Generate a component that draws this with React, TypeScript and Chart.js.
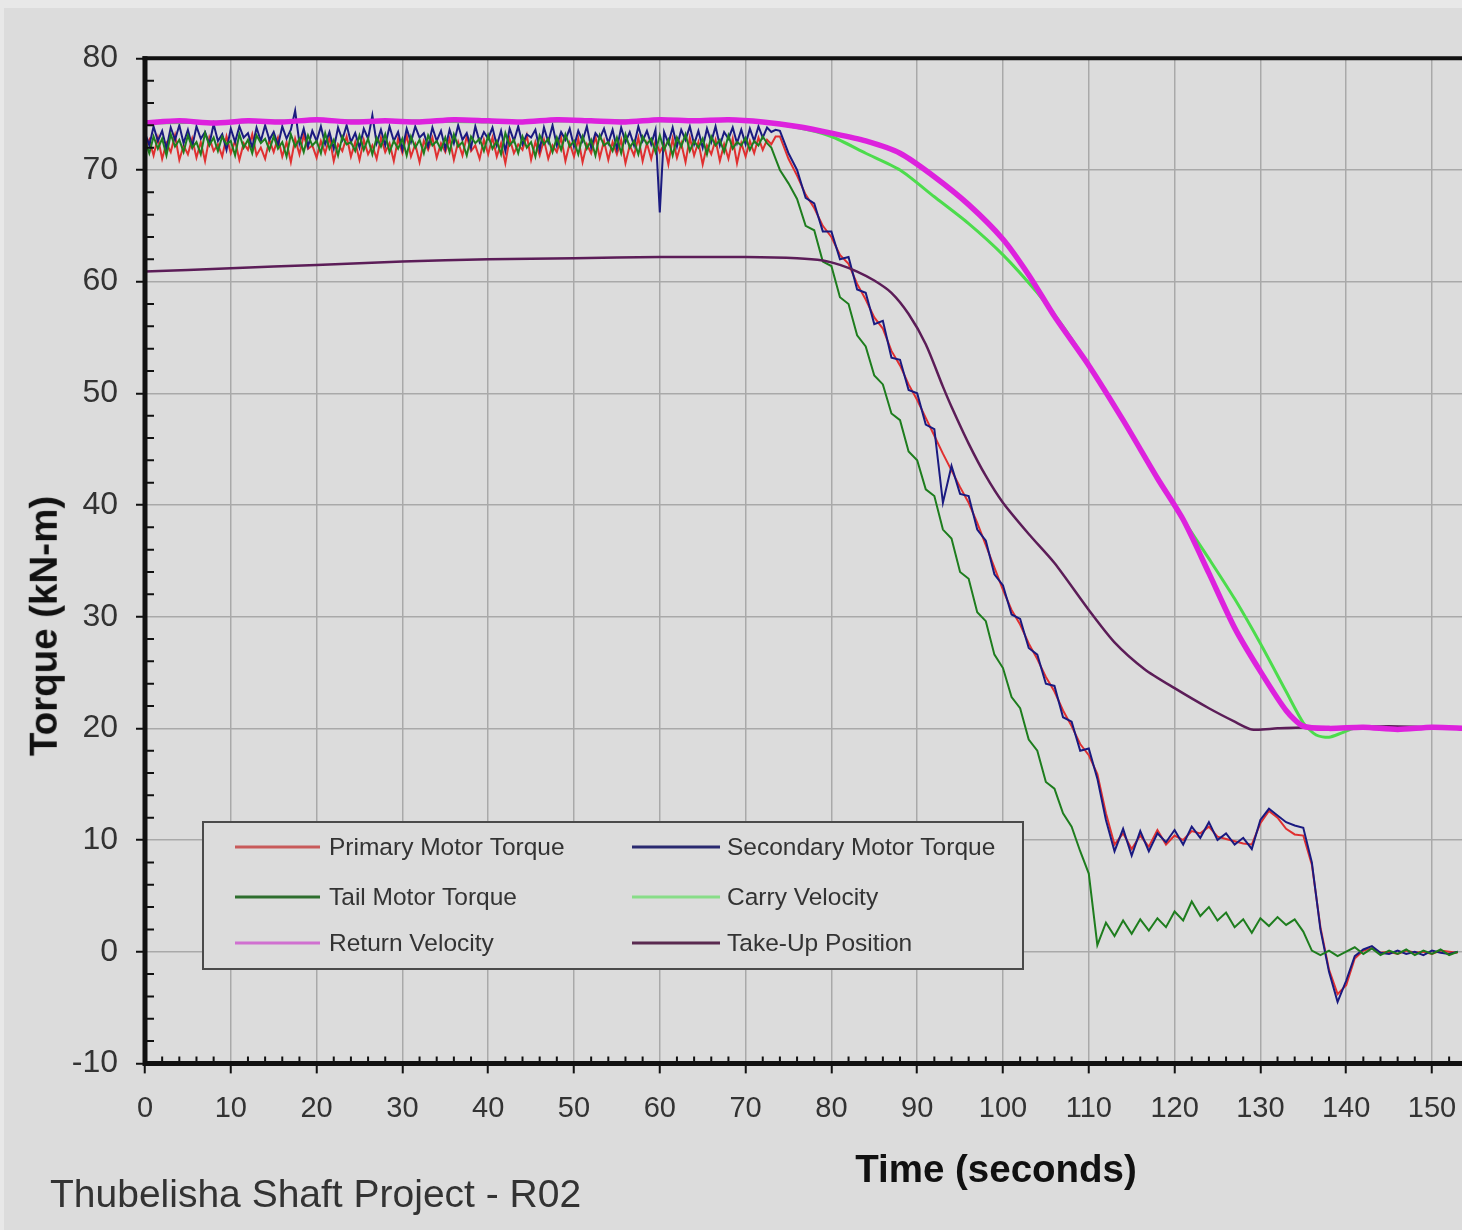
import React, { useEffect, useRef } from "react";
import { Chart, registerables } from "chart.js";

Chart.register(...registerables);

// ---------- data ----------
const TIME = [
  0, 0.5, 1, 1.5, 2, 2.5, 3, 3.5, 4, 4.5,
  5, 5.5, 6, 6.5, 7, 7.5, 8, 8.5, 9, 9.5,
  10, 10.5, 11, 11.5, 12, 12.5, 13, 13.5, 14, 14.5,
  15, 15.5, 16, 16.5, 17, 17.5, 18, 18.5, 19, 19.5,
  20, 20.5, 21, 21.5, 22, 22.5, 23, 23.5, 24, 24.5,
  25, 25.5, 26, 26.5, 27, 27.5, 28, 28.5, 29, 29.5,
  30, 30.5, 31, 31.5, 32, 32.5, 33, 33.5, 34, 34.5,
  35, 35.5, 36, 36.5, 37, 37.5, 38, 38.5, 39, 39.5,
  40, 40.5, 41, 41.5, 42, 42.5, 43, 43.5, 44, 44.5,
  45, 45.5, 46, 46.5, 47, 47.5, 48, 48.5, 49, 49.5,
  50, 50.5, 51, 51.5, 52, 52.5, 53, 53.5, 54, 54.5,
  55, 55.5, 56, 56.5, 57, 57.5, 58, 58.5, 59, 59.5,
  60, 60.5, 61, 61.5, 62, 62.5, 63, 63.5, 64, 64.5,
  65, 65.5, 66, 66.5, 67, 67.5, 68, 68.5, 69, 69.5,
  70, 70.5, 71, 71.5, 72, 72.5, 73, 73.5,
  74, 75, 76, 77, 78, 79,
  80, 81, 82, 83, 84, 85, 86, 87, 88, 89,
  90, 91, 92, 93, 94, 95, 96, 97, 98, 99,
  100, 101, 102, 103, 104, 105, 106, 107, 108, 109,
  110, 111, 112, 113, 114, 115, 116, 117, 118, 119,
  120, 121, 122, 123, 124, 125, 126, 127, 128, 129,
  130, 131, 132, 133, 134, 135, 136, 137, 138, 139,
  140, 141, 142, 143, 144, 145, 146, 147, 148, 149,
  150, 151, 152, 153,
];

const PRIMARY_TORQUE = [
  71.8, 72.7, 71.3, 72.9, 71.0, 72.4, 71.6, 73.1, 70.9, 72.2,
  71.4, 72.8, 71.1, 72.5, 70.8, 72.9, 71.7, 72.3, 71.2, 73.0,
  71.5, 72.6, 70.9, 72.4, 71.8, 73.2, 71.3, 72.0, 71.0, 72.7,
  71.6, 72.9, 71.2, 72.5, 70.7, 72.8, 71.4, 73.1, 71.9, 72.2,
  71.1, 72.6, 71.5, 72.9, 70.8, 72.3, 71.7, 73.0, 71.2, 72.5,
  70.9, 72.7, 71.4, 72.2, 71.0, 72.9, 71.6, 72.4, 70.8, 72.8,
  71.5, 73.1, 71.2, 72.3, 70.7, 72.6, 71.8, 72.9, 71.1, 72.4,
  71.6, 72.8, 70.9, 72.5, 71.3, 73.0, 71.7, 72.2, 71.0, 72.7,
  71.4, 72.9, 71.2, 72.4, 70.6, 72.8, 71.5, 72.3, 71.8, 73.1,
  70.9, 72.5, 71.3, 72.7, 71.0, 72.2, 71.6, 72.9, 70.8, 72.4,
  71.2, 72.8, 70.7, 72.3, 71.5, 73.0, 71.1, 72.6, 70.9, 72.5,
  71.4, 72.7, 70.6, 72.2, 71.3, 72.9, 70.8, 72.4, 71.0, 72.6,
  71.6, 72.3, 70.5, 72.8, 71.1, 72.4, 70.7, 72.9, 71.3, 72.5,
  70.5, 72.2, 71.4, 72.7, 70.8, 72.3, 71.0, 72.8, 70.6, 72.4,
  71.2, 72.6, 71.5, 72.9, 71.8, 72.7, 72.3, 73.0,
  73.0, 71.0, 69.5, 67.8, 66.6, 65.0,
  64.0, 62.4, 61.6, 59.8, 58.4, 56.8, 55.8, 53.8, 52.5, 50.8,
  49.4, 47.8, 46.2, 44.6, 43.1, 41.6, 40.2, 38.4, 36.4, 34.4,
  32.4, 30.6, 29.3, 27.6, 26.2, 24.6, 23.3, 21.6, 20.2, 18.6,
  17.6, 15.9, 12.4, 9.6, 10.6, 9.2, 10.4, 9.4, 10.9, 9.6,
  10.4, 10.0, 10.8, 10.6, 11.2, 10.3, 10.1, 9.9, 9.7, 9.6,
  11.5, 12.6, 12.0, 11.0, 10.5, 10.4, 7.8, 2.2, -1.6, -3.8,
  -3.0, -0.6, 0.1, 0.3, -0.1, 0.0, -0.2, 0.1, -0.1, 0.0,
  -0.2, 0.1, 0.0, -0.1,
];

const SECONDARY_TORQUE = [
  73.3, 72.2, 73.9, 72.6, 73.5, 71.9, 73.8, 72.7, 74.0, 72.4,
  73.6, 72.1, 73.9, 72.8, 73.4, 72.3, 74.1, 72.6, 73.2, 71.8,
  73.7, 72.5, 73.9, 72.9, 73.3, 72.0, 73.8, 72.6, 74.0, 72.7,
  73.4, 72.2, 73.9, 72.8, 73.6, 75.3, 72.4, 73.7, 72.1, 73.5,
  72.6, 73.9, 72.3, 73.4, 71.9, 73.8, 72.7, 74.0, 72.5, 73.3,
  72.0, 73.7, 72.8, 74.9, 72.4, 73.6, 72.2, 73.9, 72.6, 73.4,
  71.8, 73.7, 72.5, 73.9, 72.9, 73.3, 72.1, 73.8, 72.6, 73.5,
  71.9, 73.6, 72.4, 74.0, 72.7, 73.3, 72.0, 73.9, 72.5, 73.4,
  72.8, 73.8, 72.2, 73.5, 71.7, 73.7, 72.6, 73.9, 72.3, 73.2,
  72.9, 73.6, 71.8, 73.8, 72.5, 74.0, 72.2, 73.4, 72.7, 73.7,
  72.1, 73.5, 72.6, 73.9, 72.0, 73.3, 72.8, 73.7, 72.4, 73.6,
  71.9, 73.8, 72.5, 73.4, 72.2, 73.9, 72.6, 73.5, 72.3, 73.6,
  66.2, 73.4, 72.4, 73.8, 72.1, 73.6, 72.7, 73.9, 72.3, 73.5,
  72.0, 73.7, 72.5, 73.9, 72.2, 73.4, 72.8, 73.8, 72.4, 73.6,
  72.3, 73.7, 72.6, 73.9, 72.9, 73.8, 73.4, 73.6,
  73.5, 71.5, 70.0, 67.5, 67.0, 64.5,
  64.5, 62.0, 62.2, 59.3, 59.0, 56.2, 56.5, 53.2, 53.0, 50.3,
  50.0, 47.2, 46.8, 40.2, 43.5, 41.0, 40.8, 37.8, 36.8, 33.8,
  32.8, 30.2, 29.8, 27.2, 26.6, 24.0, 23.8, 21.0, 20.6, 18.0,
  18.2, 15.5, 11.8, 9.0, 11.0, 8.6, 10.8, 9.0, 10.6, 9.8,
  10.9, 9.6, 11.2, 10.2, 11.6, 10.0, 10.6, 9.6, 10.2, 9.2,
  11.8, 12.8, 12.2, 11.6, 11.3, 11.1, 8.0, 2.0, -1.8, -4.5,
  -2.6, -0.4, 0.2, 0.5, -0.1, -0.2, 0.1, -0.2, 0.0, -0.3,
  0.1, -0.1, -0.2, 0.0,
];

const TAIL_TORQUE = [
  72.6, 71.5, 73.0, 71.9, 72.8, 71.3, 73.2, 72.1, 72.7, 71.6,
  73.1, 72.0, 72.5, 71.4, 73.3, 72.2, 72.9, 71.7, 73.0, 72.3,
  72.6, 71.3, 73.2, 72.0, 72.7, 71.5, 73.1, 72.4, 72.8, 71.8,
  73.0, 71.9, 72.5, 71.2, 73.2, 72.1, 72.8, 71.6, 73.1, 72.2,
  72.6, 71.5, 73.3, 71.9, 72.7, 71.3, 73.0, 72.3, 72.5, 71.7,
  73.1, 71.8, 72.8, 71.4, 72.9, 72.1, 73.2, 71.6, 72.6, 71.9,
  72.8, 71.3, 73.0, 72.0, 72.7, 71.5, 73.1, 72.2, 72.6, 71.8,
  72.9, 71.6, 73.2, 72.1, 72.5, 71.3, 73.0, 72.4, 72.8, 71.7,
  73.1, 71.9, 72.6, 71.4, 73.3, 72.2, 72.7, 71.5, 73.0, 72.0,
  72.5, 71.2, 73.1, 72.3, 72.8, 71.6, 72.9, 71.8, 73.2, 72.1,
  72.6, 71.4, 73.0, 71.9, 72.7, 71.3, 73.1, 72.2, 72.5, 71.7,
  72.9, 71.5, 73.2, 72.0, 72.6, 71.4, 73.0, 72.3, 72.8, 71.6,
  73.1, 71.8, 72.7, 71.3, 72.9, 72.1, 73.2, 71.7, 72.6, 72.0,
  72.8, 71.4, 73.0, 72.2, 72.7, 71.6, 73.1, 71.9, 72.5, 72.2,
  72.9, 71.8, 72.6, 72.2, 73.0, 72.4, 72.0, 71.0,
  70.0, 68.8, 67.4, 65.0, 64.6, 61.8,
  61.4, 58.6, 58.0, 55.2, 54.2, 51.6, 50.8, 48.2, 47.6, 44.8,
  44.0, 41.4, 40.8, 37.8, 37.0, 34.0, 33.4, 30.4, 29.6, 26.6,
  25.4, 22.8, 21.8, 19.0, 18.0, 15.2, 14.6, 12.4, 11.2, 9.0,
  7.0, 0.6, 2.6, 1.4, 2.8, 1.6, 2.9, 1.9, 3.0, 2.2,
  3.6, 2.8, 4.5, 3.2, 4.0, 2.8, 3.5, 2.2, 2.9, 1.7,
  3.0, 2.3, 3.1, 2.4, 2.9, 1.8, 0.1, -0.3, 0.1, -0.4,
  0.0, 0.4, -0.2, 0.3, -0.3, 0.1, -0.2, 0.2, -0.3, 0.1,
  -0.2, 0.2, -0.3, 0.0,
];

const CARRY_TIME = [
  0, 10, 20, 30, 40, 50, 60, 70, 76, 80,
  84, 88, 92, 96, 100, 104, 107, 110, 114, 118,
  121, 124, 127, 130, 133, 135, 136.5, 138, 139.5, 141,
  146, 154,
];
const CARRY_VELOCITY = [
  74.2, 74.3, 74.4, 74.4, 74.3, 74.4, 74.4, 74.4, 73.8, 73.0,
  71.5, 70.0, 67.6, 65.2, 62.4, 59.0, 56.0, 52.5, 47.6, 42.4,
  38.7, 35.2, 31.6, 27.6, 23.3, 20.5, 19.4, 19.2, 19.6, 20.0,
  20.0, 20.0,
];

const RETURN_TIME = [
  0, 4, 8, 12, 16, 20, 24, 28, 32, 36,
  40, 44, 48, 52, 56, 60, 64, 68, 72, 76,
  80, 84, 88, 92, 96, 100, 103, 106, 110, 114,
  118, 121, 124, 127, 130, 133, 135, 138, 142, 146,
  150, 154,
];
const RETURN_VELOCITY = [
  74.2, 74.4, 74.2, 74.4, 74.3, 74.5, 74.3, 74.4, 74.3, 74.5,
  74.4, 74.3, 74.5, 74.4, 74.3, 74.5, 74.4, 74.5, 74.3, 73.9,
  73.3, 72.6, 71.5, 69.4, 66.9, 63.8, 60.6, 56.9, 52.5, 47.6,
  42.4, 38.7, 33.9, 29.0, 25.1, 21.6, 20.2, 20.0, 20.1, 19.9,
  20.1, 20.0,
];

const TAKEUP_TIME = [
  0, 10, 20, 30, 40, 50, 60, 70, 76, 79,
  81, 83, 85, 87, 89, 91, 93, 94, 96, 98,
  100, 103, 106, 110, 113, 116.5, 120, 124, 127, 129,
  132, 136, 140, 145, 150, 154,
];
const TAKEUP_POSITION = [
  60.9, 61.2, 61.5, 61.8, 62.0, 62.1, 62.2, 62.2, 62.1, 61.9,
  61.5, 60.9, 60.1, 59.0, 57.1, 54.4, 50.6, 48.8, 45.5, 42.6,
  40.2, 37.4, 34.8, 30.6, 27.7, 25.3, 23.6, 21.8, 20.6, 19.9,
  20.0, 20.1, 20.1, 20.2, 20.1, 20.1,
];

const SERIES_LABELS = [
  "Primary Motor Torque",
  "Secondary Motor Torque",
  "Tail Motor Torque",
  "Carry Velocity",
  "Return Velocity",
  "Take-Up Position",
];

const X_MIN = 0;
const X_MAX = 153.5;
const Y_MIN = -10;
const Y_MAX = 80;

// ---------- helpers ----------
const pts = (xs: number[], ys: number[]) => xs.map((x, i) => ({ x, y: ys[i] }));

const BG = "#dcdcdc";

const framePlugin = {
  id: "frameAndLegend",
  afterDatasetsDraw(chart: any) {
    const { ctx, chartArea: a, scales } = chart;
    const xs = scales.x;
    const ys = scales.y;
    ctx.save();
    // minor ticks (inside)
    ctx.strokeStyle = "#111";
    ctx.lineWidth = 2;
    ctx.beginPath();
    for (let v = Y_MIN; v <= Y_MAX; v += 2) {
      if (v % 10 === 0) continue;
      const py = ys.getPixelForValue(v);
      ctx.moveTo(a.left, py);
      ctx.lineTo(a.left + 9, py);
    }
    for (let t = 2; t <= 152; t += 2) {
      if (t % 10 === 0) continue;
      const px = xs.getPixelForValue(t);
      ctx.moveTo(px, a.bottom);
      ctx.lineTo(px, a.bottom - 7);
    }
    ctx.stroke();
    // axis lines
    ctx.lineWidth = 5;
    ctx.beginPath();
    ctx.moveTo(a.left, a.top - 2);
    ctx.lineTo(a.left, a.bottom + 2.5);
    ctx.moveTo(a.left - 2.5, a.bottom);
    ctx.lineTo(a.right, a.bottom);
    ctx.stroke();
    ctx.lineWidth = 4;
    ctx.beginPath();
    ctx.moveTo(a.left - 2.5, a.top);
    ctx.lineTo(a.right, a.top);
    ctx.stroke();

    // legend box
    const bx = 199, by = 814, bw = 820, bh = 147;
    ctx.fillStyle = BG;
    ctx.fillRect(bx, by, bw, bh);
    ctx.strokeStyle = "#4a4a4a";
    ctx.lineWidth = 2;
    ctx.strokeRect(bx, by, bw, bh);
    const rows = [839, 889, 935];
    const cols = [
      { l0: 231, l1: 316, tx: 325 },
      { l0: 628, l1: 716, tx: 723 },
    ];
    ctx.font = "24.5px 'Liberation Sans', Arial, sans-serif";
    ctx.textBaseline = "middle";
    ctx.textAlign = "left";
    chart.data.datasets.forEach((ds: any, i: number) => {
      const r = Math.floor(i / 2);
      const c = cols[i % 2];
      const y = rows[r];
      ctx.strokeStyle = ds.legendColor || ds.borderColor;
      ctx.lineWidth = 3;
      ctx.beginPath();
      ctx.moveTo(c.l0, y);
      ctx.lineTo(c.l1, y);
      ctx.stroke();
      ctx.fillStyle = "#333";
      ctx.fillText(ds.label, c.tx, y + 1);
    });
    ctx.restore();
  },
};

export default function App() {
  const ref = useRef<HTMLCanvasElement>(null);

  useEffect(() => {
    document.body.style.margin = "0";
    const canvas = ref.current!;
    const chart = new Chart(canvas, {
      type: "line",
      data: {
        datasets: [
          {
            label: SERIES_LABELS[0],
            data: pts(TIME, PRIMARY_TORQUE),
            borderColor: "#e03030",
            legendColor: "#c85a5a",
            borderWidth: 2,
            pointRadius: 0,
            tension: 0,
            order: 5,
          } as any,
          {
            label: SERIES_LABELS[1],
            data: pts(TIME, SECONDARY_TORQUE),
            borderColor: "#1a1a80",
            legendColor: "#2a2a70",
            borderWidth: 2,
            pointRadius: 0,
            tension: 0,
            order: 4,
          } as any,
          {
            label: SERIES_LABELS[2],
            data: pts(TIME, TAIL_TORQUE),
            borderColor: "#1e7d1e",
            legendColor: "#2e6e2e",
            borderWidth: 2,
            pointRadius: 0,
            tension: 0,
            order: 3,
          } as any,
          {
            label: SERIES_LABELS[3],
            data: pts(CARRY_TIME, CARRY_VELOCITY),
            borderColor: "#4cdc4c",
            legendColor: "#88dd88",
            borderWidth: 3,
            pointRadius: 0,
            tension: 0.25,
            order: 2,
          } as any,
          {
            label: SERIES_LABELS[4],
            data: pts(RETURN_TIME, RETURN_VELOCITY),
            borderColor: "#dd22dd",
            legendColor: "#d070d0",
            borderWidth: 5.5,
            pointRadius: 0,
            tension: 0.25,
            order: 0,
          } as any,
          {
            label: SERIES_LABELS[5],
            data: pts(TAKEUP_TIME, TAKEUP_POSITION),
            borderColor: "#5c1d58",
            legendColor: "#5a2a50",
            borderWidth: 2.5,
            pointRadius: 0,
            tension: 0.25,
            order: 1,
          } as any,
        ],
      },
      options: {
        responsive: false,
        animation: false,
        devicePixelRatio: 1,
        layout: { autoPadding: false, padding: { top: 50.3, right: 0, left: 0, bottom: 0 } },
        plugins: {
          legend: { display: false },
          tooltip: { enabled: false },
          title: { display: false },
        },
        scales: {
          x: {
            type: "linear",
            min: X_MIN,
            max: X_MAX,
            afterFit: (s: any) => {
              s.height = 166.6;
              s.paddingLeft = 0;
              s.paddingRight = 0;
            },
            border: { display: false },
            grid: {
              color: "#a9a9a9",
              lineWidth: 1.5,
              tickColor: "#111",
              tickLength: 10,
              tickWidth: 2,
            },
            ticks: {
              stepSize: 10,
              includeBounds: false,
              autoSkip: false,
              maxRotation: 0,
              padding: 18,
              color: "#333",
              font: {
                family: "'Liberation Sans', Arial, sans-serif",
                size: 29,
              },
            },
          },
          y: {
            type: "linear",
            min: Y_MIN,
            max: Y_MAX,
            afterFit: (s: any) => {
              s.width = 141;
              s.paddingTop = 0;
              s.paddingBottom = 0;
            },
            border: { display: false },
            grid: {
              color: "#a9a9a9",
              lineWidth: 1.5,
              tickColor: "#111",
              tickLength: 9,
              tickWidth: 2,
            },
            ticks: {
              stepSize: 10,
              padding: 18,
              color: "#333",
              font: {
                family: "'Liberation Sans', Arial, sans-serif",
                size: 32,
              },
            },
          },
        },
      } as any,
      plugins: [framePlugin],
    });
    return () => chart.destroy();
  }, []);

  const font = "'Liberation Sans', Arial, sans-serif";
  return (
    <div
      style={{
        position: "fixed",
        left: 0,
        top: 0,
        width: 1462,
        height: 1230,
        background: "#e8e8e8",
        overflow: "hidden",
      }}
    >
      <div
        style={{
          position: "absolute",
          left: 4,
          top: 8,
          width: 1458,
          height: 1222,
          background: BG,
        }}
      >
        <canvas
          ref={ref}
          width={1458}
          height={1222}
          style={{ display: "block", width: 1458, height: 1222 }}
        />
      </div>
      <div
        style={{
          position: "absolute",
          left: 44,
          top: 626,
          transform: "translate(-50%, -50%) rotate(-90deg)",
          fontFamily: font,
          fontWeight: "bold",
          fontSize: 38.5,
          lineHeight: 1,
          whiteSpace: "nowrap",
          color: "#111",
        }}
      >
        Torque (kN-m)
      </div>
      <div
        style={{
          position: "absolute",
          left: 996,
          top: 1150,
          transform: "translateX(-50%)",
          fontFamily: font,
          fontWeight: "bold",
          fontSize: 38.5,
          lineHeight: 1,
          whiteSpace: "nowrap",
          color: "#111",
        }}
      >
        Time (seconds)
      </div>
      <div
        style={{
          position: "absolute",
          left: 50,
          top: 1174,
          fontFamily: font,
          fontSize: 39,
          lineHeight: 1,
          whiteSpace: "nowrap",
          color: "#333",
        }}
      >
        Thubelisha Shaft Project - R02
      </div>
    </div>
  );
}
